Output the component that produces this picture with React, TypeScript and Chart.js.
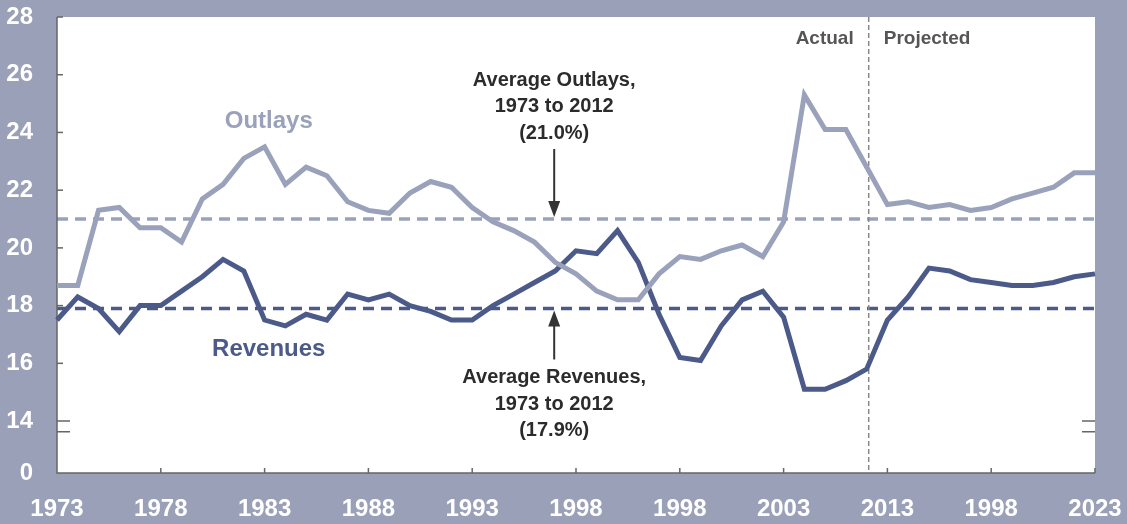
import React, { useEffect, useRef } from "react";
import { Chart, registerables } from "chart.js";

Chart.register(...registerables);

const YEARS = [
  "1973", "1974", "1975", "1976", "1977", "1978", "1979", "1980", "1981", "1982",
  "1983", "1984", "1985", "1986", "1987", "1988", "1989", "1990", "1991", "1992",
  "1993", "1994", "1995", "1996", "1997", "1998", "1999", "2000", "2001", "2002",
  "2003", "2004", "2005", "2006", "2007", "2008", "2009", "2010", "2011", "2012",
  "2013", "2014", "2015", "2016", "2017", "2018", "2019", "2020", "2021", "2022",
  "2023",
];

const X_TICK_LABELS = ["1973", "1978", "1983", "1988", "1993", "1998", "1998", "2003", "2013", "1998", "2023"];
const Y_TICKS = [14, 16, 18, 20, 22, 24, 26, 28];
const Y_ZERO_POS = 12.2; // axis break: bottom of axis labeled "0"
const Y_BREAK_LOW = 13.63;

const OUTLAYS = [
  18.7, 18.7, 21.3, 21.4, 20.7, 20.7, 20.2, 21.7, 22.2, 23.1,
  23.5, 22.2, 22.8, 22.5, 21.6, 21.3, 21.2, 21.9, 22.3, 22.1,
  21.4, 20.9, 20.6, 20.2, 19.5, 19.1, 18.5, 18.2, 18.2, 19.1,
  19.7, 19.6, 19.9, 20.1, 19.7, 20.9, 25.3, 24.1, 24.1, 22.8,
  21.5, 21.6, 21.4, 21.5, 21.3, 21.4, 21.7, 21.9, 22.1, 22.6,
  22.6,
];

const REVENUES = [
  17.5, 18.3, 17.9, 17.1, 18.0, 18.0, 18.5, 19.0, 19.6, 19.2,
  17.5, 17.3, 17.7, 17.5, 18.4, 18.2, 18.4, 18.0, 17.8, 17.5,
  17.5, 18.0, 18.4, 18.8, 19.2, 19.9, 19.8, 20.6, 19.5, 17.7,
  16.2, 16.1, 17.3, 18.2, 18.5, 17.6, 15.1, 15.1, 15.4, 15.8,
  17.5, 18.3, 19.3, 19.2, 18.9, 18.8, 18.7, 18.7, 18.8, 19.0,
  19.1,
];

const AVG_OUTLAYS = 21.0;
const AVG_REVENUES = 17.9;
const ACTUAL_SPLIT = 39.1; // index position of the Actual/Projected divider
const ANNOT_X = 23.95; // index position of average annotations
const SERIES_LABEL_X = 10.2;
const OUTLAYS_LABEL_Y = 24.37;
const REVENUES_LABEL_Y = 16.49;

const FRAME = "#99a0b8";
const OUTLAY_COLOR = "#9aa1ba";
const REVENUE_COLOR = "#4b5a89";
const TEXT_DARK = "#2b2b2b";
const AXIS_COLOR = "#666666";
const FONT = '"Liberation Sans", Arial, sans-serif';

const zeroPadding = (scale: any) => {
  scale.paddingTop = 0;
  scale.paddingBottom = 0;
  scale.paddingLeft = 0;
  scale.paddingRight = 0;
};

const overlayPlugin = {
  id: "overlay",
  beforeDraw(chart: any) {
    const { ctx, chartArea } = chart;
    ctx.save();
    ctx.fillStyle = "#ffffff";
    ctx.fillRect(chartArea.left, chartArea.top, chartArea.right - chartArea.left, chartArea.bottom - chartArea.top);
    ctx.restore();
  },
  beforeDatasetsDraw(chart: any) {
    const { ctx, chartArea } = chart;
    const x = chart.scales.x;
    const y = chart.scales.y;
    ctx.save();
    const drawH = (v: number, color: string) => {
      const py = y.getPixelForValue(v);
      ctx.strokeStyle = color;
      ctx.lineWidth = 3.5;
      ctx.setLineDash([11, 7]);
      ctx.beginPath();
      ctx.moveTo(chartArea.left, py);
      ctx.lineTo(chartArea.right, py);
      ctx.stroke();
    };
    drawH(AVG_OUTLAYS, OUTLAY_COLOR);
    drawH(AVG_REVENUES, REVENUE_COLOR);
    const dx = x.getPixelForValue(ACTUAL_SPLIT);
    ctx.strokeStyle = "#8a8a8a";
    ctx.lineWidth = 1.5;
    ctx.setLineDash([5, 3]);
    ctx.beginPath();
    ctx.moveTo(dx, chartArea.top);
    ctx.lineTo(dx, chartArea.bottom);
    ctx.stroke();
    ctx.setLineDash([]);

    ctx.strokeStyle = AXIS_COLOR;
    ctx.lineWidth = 1.5;
    ctx.beginPath();
    ctx.moveTo(chartArea.left, chartArea.top);
    ctx.lineTo(chartArea.left, chartArea.bottom);
    ctx.lineTo(chartArea.right, chartArea.bottom);
    ctx.stroke();
    Y_TICKS.forEach((v) => {
      if (v === 14) return;
      const py = y.getPixelForValue(v);
      ctx.beginPath();
      ctx.moveTo(chartArea.left, py);
      ctx.lineTo(chartArea.left + 6, py);
      ctx.stroke();
    });
    [14, Y_BREAK_LOW].forEach((v) => {
      const py = y.getPixelForValue(v);
      ctx.beginPath();
      ctx.moveTo(chartArea.left, py);
      ctx.lineTo(chartArea.left + 13, py);
      ctx.moveTo(chartArea.right - 13, py);
      ctx.lineTo(chartArea.right, py);
      ctx.stroke();
    });
    for (let i = 5; i < YEARS.length; i += 5) {
      const px = x.getPixelForValue(i);
      ctx.beginPath();
      ctx.moveTo(px, chartArea.bottom);
      ctx.lineTo(px, chartArea.bottom - 5);
      ctx.stroke();
    }
    ctx.restore();
  },
  afterDraw(chart: any) {
    const { ctx } = chart;
    const x = chart.scales.x;
    const y = chart.scales.y;
    ctx.save();
    ctx.textAlign = "center";
    ctx.textBaseline = "middle";

    ctx.font = `bold 24px ${FONT}`;
    ctx.fillStyle = OUTLAY_COLOR;
    ctx.fillText("Outlays", x.getPixelForValue(SERIES_LABEL_X), y.getPixelForValue(OUTLAYS_LABEL_Y));
    ctx.fillStyle = REVENUE_COLOR;
    ctx.fillText("Revenues", x.getPixelForValue(SERIES_LABEL_X), y.getPixelForValue(REVENUES_LABEL_Y));

    const ax = x.getPixelForValue(ANNOT_X);
    const oy = y.getPixelForValue(AVG_OUTLAYS);
    const ry = y.getPixelForValue(AVG_REVENUES);
    ctx.font = `bold 20px ${FONT}`;
    ctx.fillStyle = TEXT_DARK;
    ["Average Outlays,", "1973 to 2012", "(21.0%)"].forEach((t, i) => {
      ctx.fillText(t, ax, oy - 139 + i * 26.5);
    });
    ["Average Revenues,", "1973 to 2012", "(17.9%)"].forEach((t, i) => {
      ctx.fillText(t, ax, ry + 69 + i * 26.5);
    });

    const arrow = (x0: number, yFrom: number, yTip: number) => {
      const dir = yTip > yFrom ? 1 : -1;
      ctx.strokeStyle = "#333333";
      ctx.fillStyle = "#333333";
      ctx.lineWidth = 2;
      ctx.beginPath();
      ctx.moveTo(x0, yFrom);
      ctx.lineTo(x0, yTip - dir * 12);
      ctx.stroke();
      ctx.beginPath();
      ctx.moveTo(x0, yTip);
      ctx.lineTo(x0 - 6, yTip - dir * 16);
      ctx.lineTo(x0 + 6, yTip - dir * 16);
      ctx.closePath();
      ctx.fill();
    };
    arrow(ax, oy - 70, oy - 2);
    arrow(ax, ry + 51, ry + 2);

    const dx = x.getPixelForValue(ACTUAL_SPLIT);
    ctx.font = `bold 19px ${FONT}`;
    ctx.fillStyle = "#555555";
    ctx.textAlign = "right";
    ctx.fillText("Actual", dx - 15, 39);
    ctx.textAlign = "left";
    ctx.fillText("Projected", dx + 15, 39);
    ctx.restore();
  },
};

export default function App() {
  const canvasRef = useRef<HTMLCanvasElement | null>(null);

  useEffect(() => {
    if (!canvasRef.current) return;
    const chart = new Chart(canvasRef.current, {
      type: "line",
      data: {
        labels: YEARS,
        datasets: [
          {
            label: "Outlays",
            data: OUTLAYS,
            borderColor: OUTLAY_COLOR,
            borderWidth: 5,
            pointRadius: 0,
            tension: 0,
            borderJoinStyle: "miter",
            borderCapStyle: "butt",
          },
          {
            label: "Revenues",
            data: REVENUES,
            borderColor: REVENUE_COLOR,
            borderWidth: 5,
            pointRadius: 0,
            tension: 0,
            borderJoinStyle: "miter",
            borderCapStyle: "butt",
          },
        ],
      },
      options: {
        responsive: false,
        animation: false,
        events: [],
        layout: { padding: { top: 17, right: 32, left: 0, bottom: 0 } },
        plugins: { legend: { display: false }, tooltip: { enabled: false } },
        scales: {
          x: {
            type: "category",
            offset: false,
            grid: { display: false, drawTicks: false },
            border: { display: false },
            afterFit: (scale: any) => {
              scale.height = 51;
              zeroPadding(scale);
            },
            ticks: {
              autoSkip: false,
              maxRotation: 0,
              padding: 22,
              color: "#ffffff",
              font: { family: FONT, size: 24, weight: "bold" },
              callback: (_v: any, idx: number) => (idx % 5 === 0 ? X_TICK_LABELS[idx / 5] : null),
            },
          },
          y: {
            min: Y_ZERO_POS,
            max: 28,
            grid: { display: false, drawTicks: false },
            border: { display: false },
            afterFit: (scale: any) => {
              scale.width = 57;
              zeroPadding(scale);
            },
            afterBuildTicks: (scale: any) => {
              scale.ticks = [Y_ZERO_POS, ...Y_TICKS].map((v) => ({ value: v }));
            },
            ticks: {
              padding: 24,
              color: "#ffffff",
              font: { family: FONT, size: 24, weight: "bold" },
              callback: (v: any) => (v < 13 ? "0" : String(v)),
            },
          },
        },
      },
      plugins: [overlayPlugin],
    } as any);
    return () => chart.destroy();
  }, []);

  return (
    <div
      style={{
        position: "absolute",
        left: 0,
        top: 0,
        width: 1127,
        height: 524,
        background: FRAME,
        overflow: "hidden",
      }}
    >
      <canvas ref={canvasRef} width={1127} height={524} style={{ display: "block" }} />
    </div>
  );
}
